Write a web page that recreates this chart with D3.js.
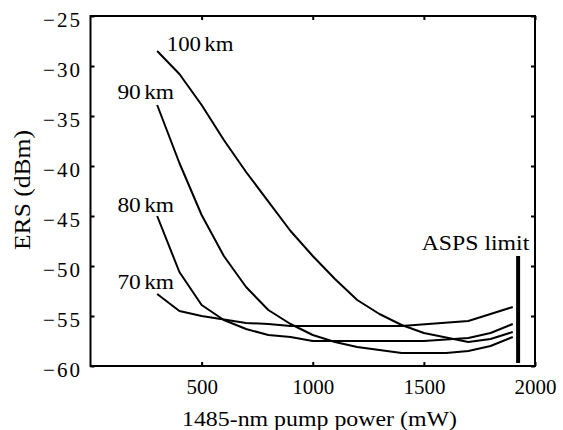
<!DOCTYPE html>
<html><head><meta charset="utf-8">
<script src="https://cdn.jsdelivr.net/npm/d3@7"></script>
<style>
body{margin:0;background:#fff;}
text{font-family:"Liberation Serif","Times New Roman",serif;fill:#000;}
</style></head>
<body><svg id="c" width="563" height="430"></svg>
<script>
const xTicks = [500, 1000, 1500, 2000];
const yTicks = [-60, -55, -50, -45, -40, -35, -30, -25];
const seriesNames = ["100km", "90km", "80km", "70km"];
const km100 = [[300,-28.5],[400,-30.8],[500,-33.9],[600,-37.4],[700,-40.6],[900,-46.5],[1000,-49.0],[1100,-51.3],[1200,-53.4],[1300,-54.8],[1400,-55.9],[1500,-56.7],[1700,-57.6],[1800,-57.3],[1900,-56.6]];
const km90 = [[300,-33.9],[400,-39.7],[500,-44.9],[600,-49.0],[700,-52.1],[800,-54.4],[900,-55.8],[1000,-56.9],[1100,-57.6],[1200,-58.1],[1400,-58.7],[1600,-58.7],[1700,-58.5],[1800,-58.0],[1900,-57.1]];
const km80 = [[300,-45.0],[400,-50.6],[500,-53.9],[600,-55.4],[700,-56.3],[800,-56.9],[900,-57.1],[1000,-57.5],[1500,-57.5],[1700,-57.2],[1800,-56.7],[1900,-55.8]];
const km70 = [[300,-52.8],[400,-54.5],[500,-55.0],[700,-55.7],[800,-55.8],[900,-56.0],[1400,-56.0],[1700,-55.5],[1800,-54.8],[1900,-54.1]];
const labelAt = [[343,-28.47],[121,-33.33],[121,-44.57],[121,-52.33]];
const aspsX = 1924, aspsY = [-59.7, -49.0];
const aspsLabel = "ASPS limit";
const xLabel = "1485-nm pump power (mW)";
const yLabel = "ERS (dBm)";

const svg = d3.select("#c");
const L = 90.5, R = 535, T = 16, B = 366;
const x = d3.scaleLinear().domain([0, 2000]).range([L, R]);
const y = d3.scaleLinear().domain([-60, -25]).range([B, T]);
const fs = 21;
const fmt = d => d < 0 ? "\u2212" + Math.abs(d) : String(d);

// frame
svg.append("rect").attr("x", L).attr("y", T).attr("width", R - L).attr("height", B - T)
  .attr("fill", "none").attr("stroke", "#000").attr("stroke-width", 2);

// axes with inward ticks
const gB = svg.append("g").attr("transform", `translate(0,${B})`)
  .call(d3.axisBottom(x).tickValues(xTicks).tickSize(-4).tickPadding(13).tickFormat(fmt));
const gT = svg.append("g").attr("transform", `translate(0,${T})`)
  .call(d3.axisTop(x).tickValues(xTicks).tickSize(-4).tickFormat(""));
const gL = svg.append("g").attr("transform", `translate(${L},0)`)
  .call(d3.axisLeft(y).tickValues(yTicks).tickSize(-4).tickPadding(10.5).tickFormat(fmt));
const gR = svg.append("g").attr("transform", `translate(${R},0)`)
  .call(d3.axisRight(y).tickValues(yTicks).tickSize(-4).tickFormat(""));
[gB, gT, gL, gR].forEach(g => {
  g.select(".domain").remove();
  g.selectAll(".tick line").attr("stroke", "#000").attr("stroke-width", 2);
  g.selectAll("text").style("font-family", '"Liberation Serif",serif').style("font-size", fs + "px").attr("fill", "#000");
});
gB.selectAll("text").attr("dy", "0.71em");
gL.selectAll("text").attr("dy", "0.48em").attr("textLength", 37).attr("lengthAdjust", "spacing");

// curves
const line = d3.line().x(d => x(d[0])).y(d => y(d[1]));
const all = [km100, km90, km80, km70];
svg.append("g").selectAll("path").data(all).join("path")
  .attr("d", line).attr("fill", "none").attr("stroke", "#000").attr("stroke-width", 2)
  .attr("stroke-linejoin", "round");

// curve labels
const labelW = [66.7, 56.7, 56.7, 56.7];
seriesNames.forEach((n, i) => {
  const a = labelAt[i];
  const t = svg.append("text").attr("x", x(a[0])).attr("y", y(a[1]))
    .style("font-size", fs + "px").attr("textLength", labelW[i]).attr("lengthAdjust", "spacingAndGlyphs");
  const m = n.match(/^(\d+)(km)$/);
  t.append("tspan").text(m[1]);
  t.append("tspan").attr("dx", 3).text(m[2]);
});

// ASPS limit
svg.append("line").attr("x1", x(aspsX)).attr("x2", x(aspsX)).attr("y1", y(aspsY[0])).attr("y2", y(aspsY[1]))
  .attr("stroke", "#000").attr("stroke-width", 4);
svg.append("text").attr("x", 421.7).attr("y", y(aspsY[1]) - 6)
  .style("font-size", fs + "px").attr("textLength", 107.6).attr("lengthAdjust", "spacingAndGlyphs").text(aspsLabel);

// axis labels
svg.append("text").attr("x", 182).attr("y", 426).style("font-size", fs + "px")
  .attr("textLength", 275).attr("lengthAdjust", "spacingAndGlyphs").text(xLabel);
svg.append("text").attr("transform", `translate(30,250) rotate(-90)`)
  .style("font-size", "24px").attr("textLength", 120).attr("lengthAdjust", "spacingAndGlyphs").text(yLabel);
</script></body></html>
